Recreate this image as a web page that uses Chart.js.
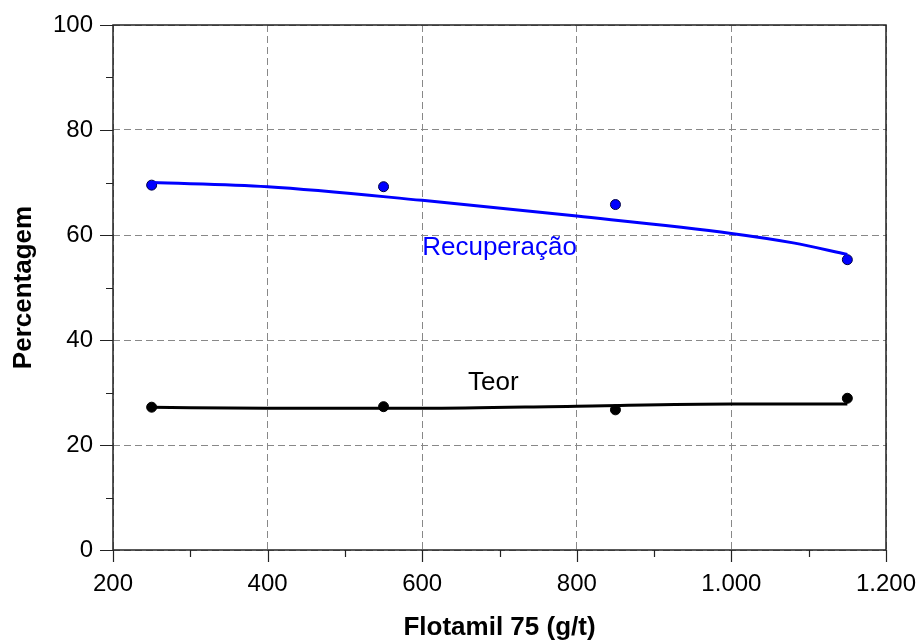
<!DOCTYPE html>
<html>
<head>
<meta charset="utf-8">
<script src="https://cdn.jsdelivr.net/npm/chart.js@4.4.0/dist/chart.umd.min.js"></script>
<style>
  html, body { margin: 0; padding: 0; background: #fff; }
</style>
</head>
<body>
<canvas id="flotChart" width="920" height="643"></canvas>
<script>
// measured points
const doses = [250, 550, 850, 1150];
const recuperacao = [69.5, 69.2, 65.8, 55.3];
const teor = [27.2, 27.3, 26.7, 28.9];

// fitted curves
const recFitX = [250, 400, 600, 800, 1000, 1080, 1150];
const recFit = [70.0, 69.2, 66.6, 63.6, 60.3, 58.5, 56.3];
const teorFitX = [250, 400, 600, 800, 1000, 1150];
const teorFit = [27.2, 27.0, 27.0, 27.4, 27.8, 27.8];

const xMajor = [200, 400, 600, 800, 1000, 1200];
const xMinor = [300, 500, 700, 900, 1100];
const yMajor = [0, 20, 40, 60, 80, 100];
const yMinor = [10, 30, 50, 70, 90];

const FONT = "'Liberation Sans', Arial, Helvetica, sans-serif";
Chart.defaults.font.family = FONT;
Chart.defaults.color = "#000";

const toXY = (xs, ys) => xs.map((x, i) => ({ x: x, y: ys[i] }));

function fmtThousands(v) {
  if (v < 1000) return String(v);
  return Math.floor(v / 1000) + "." + String(v % 1000).padStart(3, "0");
}

const frame = {
  id: "frame",
  afterDraw(chart) {
    const { ctx, chartArea: a } = chart;
    const xs = chart.scales.x;
    const ys = chart.scales.y;
    ctx.save();
    // box
    ctx.strokeStyle = "#222";
    ctx.lineWidth = 1.5;
    ctx.setLineDash([]);
    ctx.strokeRect(a.left, a.top, a.right - a.left, a.bottom - a.top);
    // tick marks
    ctx.lineWidth = 1.2;
    ctx.beginPath();
    xMajor.forEach((v) => {
      const p = Math.round(xs.getPixelForValue(v)) + 0.5;
      ctx.moveTo(p, a.bottom); ctx.lineTo(p, a.bottom + 12);
    });
    xMinor.forEach((v) => {
      const p = Math.round(xs.getPixelForValue(v)) + 0.5;
      ctx.moveTo(p, a.bottom); ctx.lineTo(p, a.bottom + 7);
    });
    yMajor.forEach((v) => {
      const p = Math.round(ys.getPixelForValue(v)) + 0.5;
      ctx.moveTo(a.left - 13, p); ctx.lineTo(a.left, p);
    });
    yMinor.forEach((v) => {
      const p = Math.round(ys.getPixelForValue(v)) + 0.5;
      ctx.moveTo(a.left - 7, p); ctx.lineTo(a.left, p);
    });
    ctx.stroke();

    // curve labels
    ctx.font = "26px " + FONT;
    ctx.textBaseline = "middle";
    ctx.fillStyle = "#0000ff";
    ctx.textAlign = "left";
    ctx.fillText("Recuperação", xs.getPixelForValue(600), ys.getPixelForValue(57.5));
    ctx.fillStyle = "#000";
    ctx.textAlign = "center";
    ctx.fillText("Teor", xs.getPixelForValue(692), ys.getPixelForValue(31.8));
    ctx.restore();
  }
};

new Chart(document.getElementById("flotChart"), {
  type: "scatter",
  data: {
    datasets: [
      {
        label: "Recuperação (ajuste)",
        data: toXY(recFitX, recFit),
        showLine: true,
        borderColor: "#0000ff",
        borderWidth: 3,
        pointRadius: 0,
        cubicInterpolationMode: "monotone"
      },
      {
        label: "Recuperação",
        data: toXY(doses, recuperacao),
        pointRadius: 5,
        backgroundColor: "#0000ff",
        borderColor: "#000040",
        borderWidth: 1
      },
      {
        label: "Teor (ajuste)",
        data: toXY(teorFitX, teorFit),
        showLine: true,
        borderColor: "#000",
        borderWidth: 3,
        pointRadius: 0,
        cubicInterpolationMode: "monotone"
      },
      {
        label: "Teor",
        data: toXY(doses, teor),
        pointRadius: 5,
        backgroundColor: "#000",
        borderColor: "#000",
        borderWidth: 1
      }
    ]
  },
  options: {
    responsive: false,
    animation: false,
    layout: { padding: { top: 25, right: 34, left: 0, bottom: 0 } },
    plugins: {
      legend: { display: false },
      tooltip: { enabled: false }
    },
    scales: {
      x: {
        type: "linear",
        min: 200,
        max: 1200,
        afterFit: (s) => {
          s.height = 93;
          s.paddingLeft = 0;
          s.paddingRight = 0;
        },
        afterBuildTicks: (s) => { s.ticks = xMajor.map((v) => ({ value: v })); },
        ticks: {
          font: { size: 24 },
          padding: 20,
          maxRotation: 0,
          callback: (v) => fmtThousands(v)
        },
        grid: { color: "#888", lineWidth: 1, drawTicks: false },
        border: { display: false, dash: [7, 4] },
        title: {
          display: true,
          text: "Flotamil 75 (g/t)",
          font: { size: 26, weight: "bold" },
          padding: { top: 0, bottom: 0 }
        }
      },
      y: {
        type: "linear",
        min: 0,
        max: 100,
        afterFit: (s) => {
          s.width = 113;
          s.paddingTop = 0;
          s.paddingBottom = 0;
        },
        afterBuildTicks: (s) => { s.ticks = yMajor.map((v) => ({ value: v })); },
        ticks: {
          font: { size: 24 },
          padding: 20
        },
        grid: { color: "#888", lineWidth: 1, drawTicks: false },
        border: { display: false, dash: [7, 4] },
        title: {
          display: true,
          text: "Percentagem",
          font: { size: 26, weight: "bold" },
          padding: { top: 8, bottom: 0 }
        }
      }
    }
  },
  plugins: [frame]
});
</script>
</body>
</html>
